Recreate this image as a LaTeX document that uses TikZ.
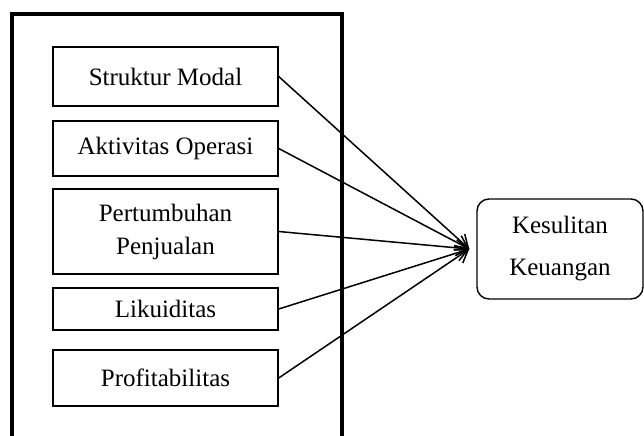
\documentclass[tikz,border=0pt]{standalone}
\usepackage{fontspec}
\setmainfont{Liberation Serif}
\usetikzlibrary{arrows.meta}
\begin{document}
\begin{tikzpicture}[x=0.5pt,y=-0.5pt,
    varbox/.style={draw,line width=0.7pt,minimum width=112.5pt,inner sep=2pt,align=center,font=\fontsize{12.5}{16.5}\selectfont},
    hasil/.style={draw,line width=0.7pt,rounded corners=6pt,minimum width=83pt,minimum height=50pt,align=center,font=\fontsize{12.5}{21}\selectfont},
    panah/.style={line width=0.75pt,-{Straight Barb[length=6pt,width=8pt]}}] %Kerangka pemikiran
            \useasboundingbox (0,0) rectangle (644,435);

            % bingkai variabel independen
            \draw[line width=2pt] (12,436) -- (12,14) -- (342,14) -- (342,436);

            \node[varbox,minimum height=29.5pt] (SM) at (165.5,76.5) {Struktur Modal};
            \node[varbox,minimum height=27.5pt] (AO) at (165.5,148.5) {Aktivitas Operasi};
            \node[varbox,minimum height=42.5pt] (PP) at (165.5,231.5) {Pertumbuhan\\Penjualan};
            \node[varbox,minimum height=21pt] (LK) at (165.5,309) {Likuiditas};
            \node[varbox,minimum height=28pt] (PR) at (165.5,378) {Profitabilitas};

            \node[hasil] (KK) at (560,249) {Kesulitan\\Keuangan};
            \coordinate (T) at ([xshift=-3.5pt]KK.west);

            \draw[panah] (SM.east) -- (T);
            \draw[panah] (AO.east) -- (T);
            \draw[panah] (PP.east) -- (T);
            \draw[panah] (LK.east) -- (T);
            \draw[panah] (PR.east) -- (T);
        \end{tikzpicture}
\end{document}
